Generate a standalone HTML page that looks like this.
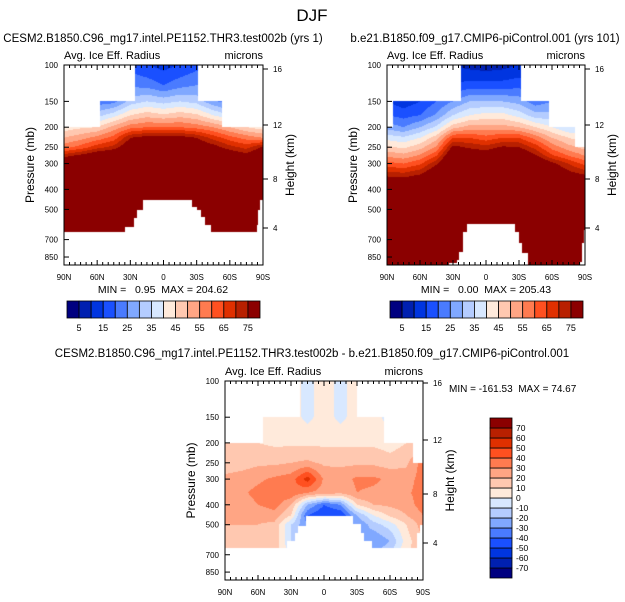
<!DOCTYPE html>
<html><head><meta charset="utf-8">
<style>
body{margin:0;background:#fff;width:625px;height:602px;overflow:hidden;position:relative;font-family:"Liberation Sans",sans-serif}
canvas{position:absolute}
svg{position:absolute;left:0;top:0}
text{white-space:pre}
</style></head>
<body>
<canvas id="c1" style="left:64px;top:65px" width="199" height="200"></canvas>
<canvas id="c2" style="left:387px;top:65px" width="198" height="200"></canvas>
<canvas id="c3" style="left:225px;top:381px" width="198" height="199"></canvas>
<svg id="s" width="625" height="602" xml:space="preserve"></svg>
<script>
// ---- data ----
const lats = [90,75,60,45,30,15,0,-15,-30,-45,-60,-75,-90];
const levels12 = [100,125,150,175,200,225,250,275,300,350,400,1000];
const p1Values = [
[18,18,18,18,18,15,13,15,18,18,18,18,18],
[24,24,24,24,24,23,20,23,25,24,24,24,24],
[28,28,22,23,32,35,33,35,33,26,22,28,30],
[35,35,33,38,45,48,46,48,46,40,35,35,35],
[42,44,45,52,58,60,60,60,58,55,50,45,42],
[50,53,57,62,75,78,78,78,75,68,62,58,55],
[58,62,68,72,82,85,85,85,82,78,72,68,76],
[73,77,82,85,85,85,85,85,85,85,82,78,85],
[85,85,85,85,85,85,85,85,85,85,85,85,85],
[90,90,90,90,90,90,90,90,90,90,90,90,90],
[90,90,90,90,90,90,90,90,90,90,90,90,90],
[90,90,90,90,90,90,90,90,90,90,90,90,90]];
const p2Values = [
[10,10,10,10,10,8,7,8,10,10,10,10,10],
[15,15,15,15,15,17,17,17,18,15,15,15,15],
[15,12,15,20,25,30,30,30,28,22,25,25,25],
[20,18,20,26,35,40,42,42,38,32,32,32,32],
[28,25,30,36,48,52,52,52,50,45,40,35,35],
[38,36,40,48,65,65,62,65,65,58,50,45,42],
[46,44,48,56,77,74,72,76,75,68,58,52,48],
[54,52,56,65,85,82,80,85,85,76,66,60,55],
[62,60,64,74,90,90,90,90,90,85,77,70,63],
[76,75,78,86,90,90,90,90,90,90,85,80,78],
[90,90,90,90,90,90,90,90,90,90,90,90,90],
[90,90,90,90,90,90,90,90,90,90,90,90,90]];
const levels11 = [100,150,200,250,300,350,400,450,500,600,700];
const diffValues = [
[5,5,5,5,5,-3,5,-3,5,5,5,5,5],
[5,5,5,5,5,-3,5,-3,5,5,-5,5,5],
[12,12,10,8,8,8,8,8,8,8,5,10,12],
[15,15,18,18,20,22,18,18,18,18,15,18,35],
[22,25,28,32,35,55,28,25,32,32,28,25,35],
[25,28,33,36,38,30,25,22,30,28,25,28,35],
[22,25,30,35,20,-20,-40,-30,10,20,22,25,35],
[22,22,22,25,10,-40,-50,-50,-20,0,12,20,30],
[20,20,20,18,-10,-30,-30,-30,-30,-15,-5,10,25],
[15,15,15,18,-10,-20,-20,-20,-15,-30,-20,5,20],
[15,15,15,15,-5,-10,-10,-10,-10,-20,-10,10,15]];
// missing-data masks (lat breakpoints going south, pressure limits)
const top1Lats=[90,57,26,-31,-53], top1P=[200,150,100,150,200];
const bot1Lats=[90,34.8,26.7,24,18.5,-25.8,-30.3,-33.9,-37.5,-43,-84.6,-85.5,-87.3];
const bot1P=[643,607,550,503,450,487,503,545,595,643,595,503,450];
const top2Lats=[90,84.8,22.7,-31.6,-57,-80.5], top2P=[200,150,100,150,200,250];
const bot2Lats=[90,33.6,26.6,24.5,21.2,17,-26.4,-30,-32.5,-38.2,-85.5,-87,-89.4];
const bot2P=[940,908,879,804,640,590,640,727,813,940,898,727,630];
const top3Lats=[90,55.7,21.8,-30,-54.5,-81], top3P=[200,150,100,150,200,250];
const bot3Lats=[90,33.6,26.3,23.2,16.3,-26.6,-34,-36.7,-43.4,-84.5,-87];
const bot3P=[649,598,547,507,455,496,550,601,649,550,503];
const colors=["#000080","#0020b0","#0035e0","#1a50ff","#4a7bff","#80a8ff","#b4ccff","#d8e8ff","#ffeadb","#ffc8b0","#ffa584","#ff7b50","#ff5020","#e03000","#b82000","#8b0000"];
const cbLabels12=["5","15","25","35","45","55","65","75"];
const cbLabels3=["70","60","50","40","30","20","10","0","-10","-20","-30","-40","-50","-60","-70"];
const pTicks=[100,150,200,250,300,400,500,700,850];
const hTicks=[16,12,8,4];
const xLabels=["90N","60N","30N","0","30S","60S","90S"];

// ---- helpers ----
function step(latsArr,pArr,lat){let r=pArr[0];for(let i=0;i<latsArr.length;i++){if(lat<=latsArr[i])r=pArr[i];}return r;}
function interp(grid,lv,lat,p){
  let t=(90-lat)/15;let i=Math.min(Math.floor(t),11);let fi=t-i;
  let j=0;while(j<lv.length-2&&p>lv[j+1])j++;
  let fj=(Math.log(p)-Math.log(lv[j]))/(Math.log(lv[j+1])-Math.log(lv[j]));fj=Math.max(0,Math.min(1,fj));
  const a=grid[j][i]*(1-fi)+grid[j][i+1]*fi, b=grid[j+1][i]*(1-fi)+grid[j+1][i+1]*fi;
  return a*(1-fj)+b*fj;
}
function hex(c){return [parseInt(c.substr(1,2),16),parseInt(c.substr(3,2),16),parseInt(c.substr(5,2),16)];}
function drawField(id,grid,lv,tL,tP,bL,bP,scale,binFn){
  const cv=document.getElementById(id),ctx=cv.getContext('2d'),W=cv.width,H=cv.height;
  const img=ctx.createImageData(W,H);
  for(let y=0;y<H;y++){const p=100*Math.pow(10,(y+0.5)/scale);
    for(let x=0;x<W;x++){const lat=90-(x+0.5)*180/W;const k=(y*W+x)*4;
      if(p<step(tL,tP,lat)||p>step(bL,bP,lat)){img.data[k]=255;img.data[k+1]=255;img.data[k+2]=255;img.data[k+3]=255;continue;}
      const v=interp(grid,lv,lat,p);const c=hex(colors[binFn(v)]);
      img.data[k]=c[0];img.data[k+1]=c[1];img.data[k+2]=c[2];img.data[k+3]=255;}}
  ctx.putImageData(img,0,0);
}
const bin12=v=>Math.max(0,Math.min(15,Math.floor(v/5)));
const bin3=v=>Math.max(0,Math.min(15,Math.floor((v+80)/10)));
drawField('c1',p1Values,levels12,top1Lats,top1P,bot1Lats,bot1P,206.6,bin12);
drawField('c2',p2Values,levels12,top2Lats,top2P,bot2Lats,bot2P,206.6,bin12);
drawField('c3',diffValues,levels11,top3Lats,top3P,bot3Lats,bot3P,205.6,bin3);

const NS="http://www.w3.org/2000/svg",svg=document.getElementById('s');
function el(tag,attrs,txt){const e=document.createElementNS(NS,tag);for(const k in attrs)e.setAttribute(k,attrs[k]);if(txt!==undefined)e.textContent=txt;svg.appendChild(e);return e;}
function text(x,y,s,size,anchor,name){const e=el('text',{x:x,y:y,'font-size':size,'text-anchor':anchor||'start',fill:'#000'},s);
  
  return e;}

function axes(x0,y0,w,h,scale,hPos,idx){
  const g=el('rect',{x:x0,y:y0,width:w,height:h,fill:'none',stroke:'#000','stroke-width':1});
  
  
  for(let lat=90;lat>=-90;lat-=5){const x=x0+(90-lat)*w/180;const L=(lat%30===0)?5:3;
    const t=el('path',{d:`M${x},${y0+h}v${-L}M${x},${y0}v${L}`,stroke:'#000','stroke-width':1});
    
    }
  xLabels.forEach((s,i)=>text(x0+i*w/6,y0+h+15,s,8,'middle','x-tick-label'));
  pTicks.forEach(p=>{const y=y0+Math.log10(p/100)*scale;
    const t=el('path',{d:`M${x0},${y}h5`,stroke:'#000'});
    
    
    text(x0-6,y+3,String(p),8,'end','y-tick-label');});
  hTicks.forEach((hk,i)=>{const y=hPos[i];
    const t=el('path',{d:`M${x0+w},${y}h5`,stroke:'#000'});
    
    
    text(x0+w+10,y+3,String(hk),8,'start','height-tick-label');});
  text(x0,y0-6,'Avg. Ice Eff. Radius',11,'start','field-label');
  text(x0+w,y0-6,'microns',11,'end','units-label');
  const pl=text(0,0,'Pressure (mb)',12,'middle','y-axis-title');pl.setAttribute('transform',`translate(${x0-30},${y0+h/2}) rotate(-90)`);
  const hl=text(0,0,'Height (km)',12,'middle','right-axis-title');hl.setAttribute('transform',`translate(${x0+w+31},${y0+h/2}) rotate(-90)`);
}
axes(64,65,199,200,206.6,[69,125,179,228],1);
axes(387,65,198,200,206.6,[69,125,179,228],2);
axes(225,381,198,199,205.6,[383,440,494,543],3);

text(312,21,'DJF',17,'middle','main-title');
text(163,42,'CESM2.B1850.C96_mg17.intel.PE1152.THR3.test002b (yrs 1)',11.5,'middle','panel1-title');
text(485,42,'b.e21.B1850.f09_g17.CMIP6-piControl.001 (yrs 101)',11.5,'middle','panel2-title');
text(312,357,'CESM2.B1850.C96_mg17.intel.PE1152.THR3.test002b - b.e21.B1850.f09_g17.CMIP6-piControl.001',11.5,'middle','diff-title');
text(163,293,'MIN =   0.95  MAX = 204.62',10.5,'middle','panel1-minmax');
text(486,293,'MIN =   0.00  MAX = 205.43',10.5,'middle','panel2-minmax');
text(449,392,'MIN = -161.53  MAX = 74.67',10,'start','diff-minmax');

function hbar(x0,y0,w,h,idx){const bw=w/16;
  colors.forEach((c,i)=>{const r=el('rect',{x:x0+i*bw,y:y0,width:bw,height:h,fill:c,stroke:'#000','stroke-width':0.8});
    
    });
  cbLabels12.forEach((s,i)=>text(x0+(2*i+1)*bw,y0+h+13,s,9,'middle','colorbar-label'));}
hbar(67,301,193,17,1);hbar(390,301,193,17,2);
colors.forEach((c,i)=>{const r=el('rect',{x:490,y:418+(15-i)*10,width:22,height:10,fill:c,stroke:'#000','stroke-width':0.8});
  
  });
cbLabels3.forEach((s,i)=>text(516,431+i*10,s,8.5,'start','diff-colorbar-label'));
</script>
</body></html>
